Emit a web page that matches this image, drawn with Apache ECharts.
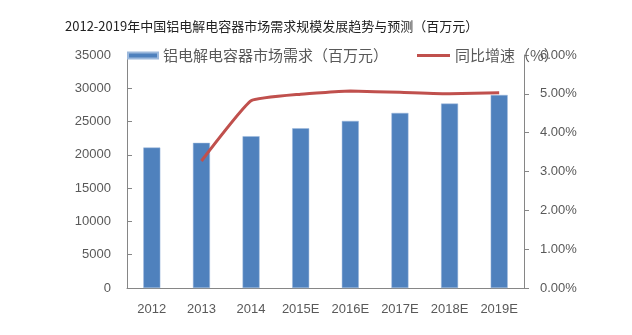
<!DOCTYPE html>
<html><head><meta charset="utf-8">
<script src="https://cdn.jsdelivr.net/npm/echarts@6/dist/echarts.min.js"></script>
<style>html,body{margin:0;padding:0;background:#fff;}#c{width:632px;height:335px;}</style>
</head><body><div id="c"></div>
<script>
const titleText = '2012-2019年中国铝电解电容器市场需求规模发展趋势与预测（百万元）';
const categories = ['2012','2013','2014','2015E','2016E','2017E','2018E','2019E'];
const demandName = '铝电解电容器市场需求（百万元）';
const growthName = '同比增速（%）';
const demand = [21100, 21800, 22800, 24000, 25100, 26300, 27700, 29000];
const growth = [null, 3.27, 4.82, 4.99, 5.07, 5.04, 5.00, 5.03];
const leftTicks = {min: 0, max: 35000, interval: 5000};
const rightTicks = {min: 0, max: 6, interval: 1};

const chart = echarts.init(document.getElementById('c'), null, {renderer: 'canvas'});
const labelColor = '#595959';
const axisColor = '#868686';
const font = '"Noto Sans CJK SC", "Noto Sans", sans-serif';
const numFont = '"Liberation Sans", "DejaVu Sans", sans-serif';
chart.setOption({
  animation: false,
  textStyle: {fontFamily: font},
  title: {
    text: titleText, left: 60, top: 15,
    textStyle: {fontSize: 13, fontWeight: 'normal', color: '#222', fontFamily: font}
  },
  legend: [
    {data: [demandName], left: 127, top: 48, padding: 0, icon: 'rect', itemWidth: 30, itemHeight: 6, itemGap: 0,
     textStyle: {fontSize: 15, color: labelColor, fontFamily: font}},
    {data: [growthName], left: 417, top: 48, padding: 0, icon: 'rect', itemWidth: 33, itemHeight: 3,
     textStyle: {fontSize: 15, color: labelColor, fontFamily: font}}
  ],
  grid: {left: 127, right: 108, top: 55, bottom: 47, containLabel: false},
  xAxis: {
    type: 'category', data: categories,
    axisLine: {lineStyle: {color: axisColor}},
    axisTick: {show: false},
    axisLabel: {color: labelColor, fontSize: 13, margin: 15, fontFamily: numFont}
  },
  yAxis: [
    {type: 'value', min: leftTicks.min, max: leftTicks.max, interval: leftTicks.interval,
     axisLine: {show: true, lineStyle: {color: axisColor}},
     axisTick: {show: true, inside: true, length: 5, lineStyle: {color: axisColor}},
     splitLine: {show: false},
     axisLabel: {color: labelColor, fontSize: 13, margin: 16, fontFamily: numFont,
       formatter: v => String(v)}},
    {type: 'value', position: 'right', min: rightTicks.min, max: rightTicks.max, interval: rightTicks.interval,
     axisLine: {show: true, lineStyle: {color: axisColor}},
     axisTick: {show: true, inside: false, length: 5, lineStyle: {color: axisColor}},
     splitLine: {show: false},
     axisLabel: {color: labelColor, fontSize: 13, margin: 16, fontFamily: numFont,
       formatter: v => v.toFixed(2) + '%'}}
  ],
  series: [
    {name: demandName, type: 'bar', data: demand, barWidth: 17,
     itemStyle: {color: '#4F81BD', borderColor: '#9DB9DC', borderWidth: 0.5}},
    {name: growthName, type: 'line', yAxisIndex: 1, data: growth, smooth: 0.12,
     showSymbol: false, symbol: 'none',
     lineStyle: {color: '#C0504D', width: 3}, itemStyle: {color: '#C0504D'}}
  ]
});
</script></body></html>
